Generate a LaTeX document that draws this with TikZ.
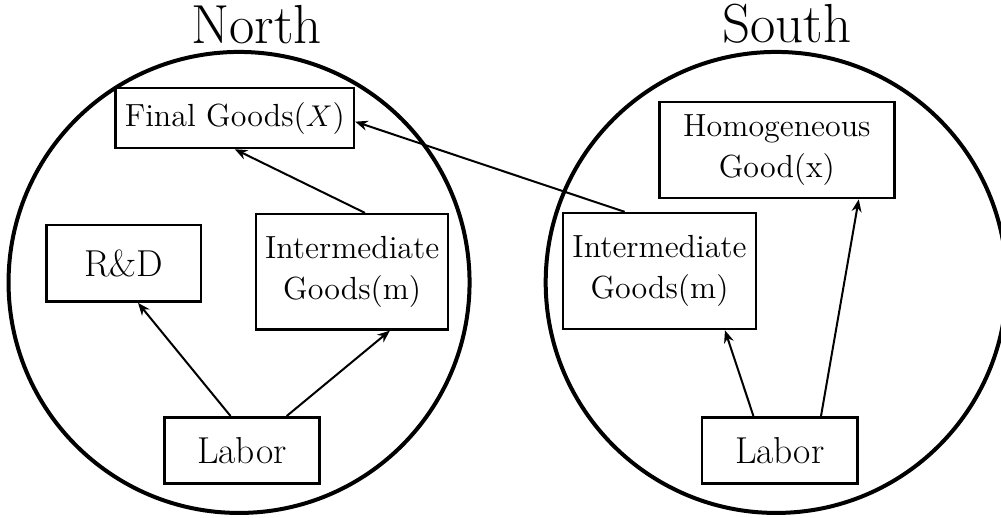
\documentclass[tikz,border=0pt]{standalone}
\usepackage{tikz}
\usetikzlibrary{arrows.meta, positioning}
\tikzset{
  region/.style={circle, draw=black, line width=1.6pt, minimum size=6.48cm, inner sep=0pt},
  title/.style={font=\fontsize{22}{26}\selectfont, inner sep=0pt},
  goodbox/.style={rectangle, draw=black, line width=1pt, align=center, font=\fontsize{12.8}{16.2}\selectfont, inner sep=2pt},
  basebox/.style={rectangle, draw=black, line width=1pt, align=center, font=\fontsize{15}{18}\selectfont, inner sep=2pt},
  arr/.style={-{Stealth[length=5pt, width=4pt]}, line width=0.8pt},
}
\begin{document}
\begin{tikzpicture}
\useasboundingbox (0,0) rectangle (14.07,-7.28);
\node[region] (north) at (3.36,-3.97) {};
\node[region] (south) at (10.91,-3.97) {};
\node[title, above=0.8mm of north.north, xshift=0.25cm] (ntitle) {North};
\node[title, above=0.8mm of south.north, xshift=0.15cm] (stitle) {South};
% North
\node[goodbox, minimum width=3.35cm, minimum height=0.84cm] (final) at (3.30,-1.66) {Final Goods($X$)};
\node[basebox, minimum width=2.17cm, minimum height=1.08cm] (rd) at (1.74,-3.70) {R\&D};
\node[goodbox, minimum width=2.70cm, minimum height=1.62cm] (intn) at (4.95,-3.82) {Intermediate\\Goods(m)};
\node[basebox, minimum width=2.18cm, minimum height=0.93cm] (laborn) at (3.40,-6.33) {Labor};
% South
\node[goodbox, minimum width=3.30cm, minimum height=1.35cm] (homog) at (10.92,-2.11) {Homogeneous\\Good(x)};
\node[goodbox, minimum width=2.71cm, minimum height=1.63cm] (ints) at (9.27,-3.81) {Intermediate\\Goods(m)};
\node[basebox, minimum width=2.18cm, minimum height=0.93cm] (labors) at (10.96,-6.33) {Labor};
\draw[arr] ([xshift=-0.16cm]laborn.north) -- ([xshift=0.20cm]rd.south);
\draw[arr] ([xshift=0.63cm]laborn.north) -- ([xshift=0.53cm]intn.south);
\draw[arr] ([xshift=0.18cm]intn.north) -- (final.south);
\draw[arr] ([xshift=-0.49cm]ints.north) -- ([yshift=-0.05cm]final.east);
\draw[arr] ([xshift=-0.37cm]labors.north) -- ([xshift=0.92cm]ints.south);
\draw[arr] ([xshift=0.58cm]labors.north) -- ([xshift=1.15cm]homog.south);
\end{tikzpicture}
\end{document}
